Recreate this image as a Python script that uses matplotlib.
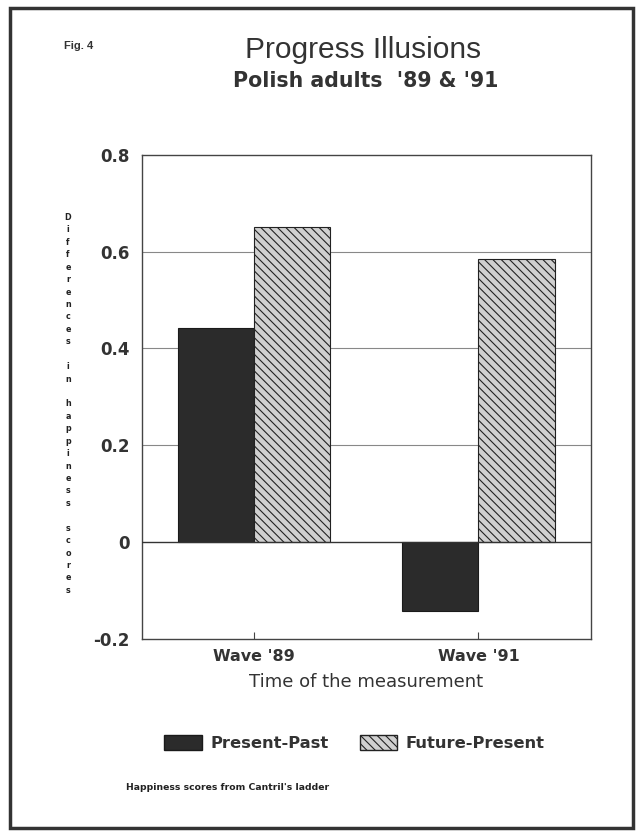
import matplotlib
matplotlib.use("Agg")
import matplotlib.pyplot as plt
import numpy as np
from matplotlib.patches import Rectangle, Patch

plt.rcParams['font.family'] = ['Liberation Sans', 'DejaVu Sans']
plt.rcParams['hatch.linewidth'] = 0.8
plt.rcParams['hatch.color'] = '#333333'
WIDE = ['DejaVu Sans']

# data
waves = ["Wave '89", "Wave '91"]
present_past = [0.443, -0.142]
future_present = [0.65, 0.585]
series_names = ["Present-Past", "Future-Present"]
y_ticks = [-0.2, 0, 0.2, 0.4, 0.6, 0.8]
y_tick_labels = ["-0.2", "0", "0.2", "0.4", "0.6", "0.8"]

fig = plt.figure(figsize=(6.42, 8.32), dpi=100)
ax = fig.add_axes([0.221, 0.232, 0.699, 0.582])

x = np.arange(len(waves))
w = 0.34
ax.bar(x - w / 2, present_past, w, color='#2b2b2b', edgecolor='#1a1a1a', linewidth=0.8, zorder=3)
ax.bar(x + w / 2, future_present, w, color='#d0d0d0', edgecolor='#222222', hatch='\\\\\\\\',
       linewidth=0.8, zorder=3)

ax.set_xlim(-0.5, 1.5)
ax.set_ylim(-0.2, 0.8)
ax.set_yticks(y_ticks)
ax.set_yticklabels(y_tick_labels, fontsize=12, fontweight='bold', color='#333333', family=WIDE)
ax.set_xticks(x)
ax.set_xticklabels(waves, fontsize=11.5, fontweight='bold', color='#333333', family=WIDE)
ax.tick_params(axis='y', length=0, pad=9)
ax.tick_params(axis='x', direction='in', length=5, pad=7, color='#444444')

for v in [0.2, 0.4, 0.6]:
    ax.axhline(v, color='#888888', linewidth=0.8, zorder=1)
ax.axhline(0, color='#333333', linewidth=1.0, zorder=4)

for s in ax.spines.values():
    s.set_color('#444444')
    s.set_linewidth(1.0)

ax.set_xlabel("Time of the measurement", fontsize=13, color='#333333', labelpad=7, family=WIDE)

# stacked vertical y label
ylabel = "Differences in happiness scores"
fig.text(0.106, 0.744, "\n".join(ylabel), fontsize=5.8, fontweight='bold',
         ha='center', va='top', linespacing=1.49, color='#222222', family=WIDE)

# titles
fig.text(0.566, 0.940, "Progress Illusions", fontsize=21.5, ha='center', va='center', color='#333333')
fig.text(0.570, 0.903, "Polish adults  '89 & '91", fontsize=14.8, fontweight='bold',
         ha='center', va='center', color='#333333', family=WIDE)
fig.text(0.100, 0.945, "Fig. 4", fontsize=8, fontweight='bold', ha='left', va='center', color='#333333')

# legend
handles = [Patch(facecolor='#2b2b2b', edgecolor='#1a1a1a'),
           Patch(facecolor='#d0d0d0', edgecolor='#222222', hatch='\\\\\\\\')]
leg = fig.legend(handles, series_names, loc='center', bbox_to_anchor=(0.552, 0.107),
                 ncol=2, frameon=False, handlelength=2.3, handleheight=1.05,
                 columnspacing=1.9, handletextpad=0.5,
                 prop={'family': WIDE, 'size': 11.8, 'weight': 'bold'})
for t in leg.get_texts():
    t.set_color('#333333')

fig.text(0.354, 0.054, "Happiness scores from Cantril's ladder", fontsize=6.7, fontweight='bold',
         ha='center', va='center', color='#222222', family=WIDE)

# page border
fig.patches.append(Rectangle((0.016, 0.005), 0.970, 0.985, transform=fig.transFigure,
                             fill=False, edgecolor='#333333', linewidth=2.5))

fig.savefig("out.png", dpi=100)
